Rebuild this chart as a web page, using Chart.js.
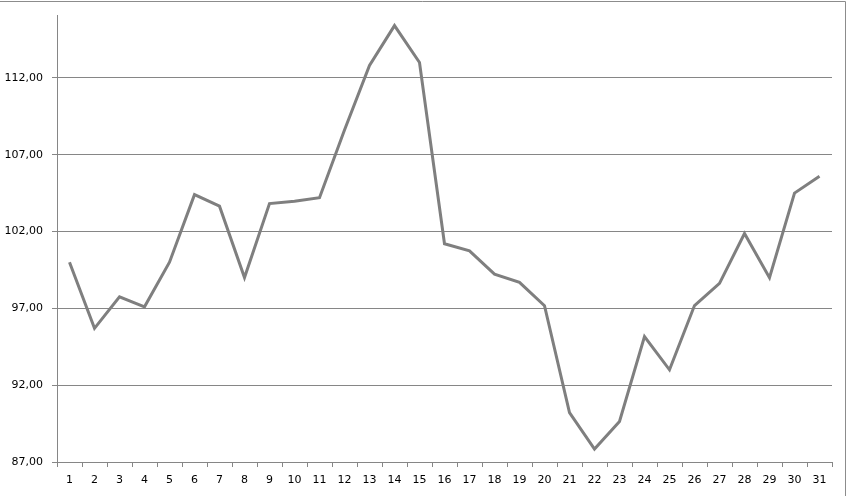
<!DOCTYPE html>
<html>
<head>
<meta charset="utf-8">
<script src="https://cdn.jsdelivr.net/npm/chart.js@4"></script>
<style>
html,body{margin:0;padding:0;background:#fff;}
#wrap{width:847px;height:496px;position:relative;}
</style>
</head>
<body>
<div id="wrap"><canvas id="c" width="847" height="496"></canvas></div>
<script>
const categories = ["1","2","3","4","5","6","7","8","9","10","11","12","13","14","15","16","17","18","19","20","21","22","23","24","25","26","27","28","29","30","31"];
const values = [100.0, 95.7, 97.75, 97.1, 100.0, 104.4, 103.65, 99.0, 103.82, 103.97, 104.2, 108.6, 112.8, 115.4, 113.0, 101.2, 100.74, 99.23, 98.69, 97.17, 90.22, 87.84, 89.64, 95.16, 93.0, 97.18, 98.62, 101.87, 98.99, 104.5, 105.59];
const yTicks = [87, 92, 97, 102, 107, 112];
const yMin = 87;
const yMax = 116.05;

const frame = {
  id: 'frame',
  afterDraw(chart) {
    const ctx = chart.ctx;
    ctx.save();
    ctx.strokeStyle = '#8c8c8c';
    ctx.lineWidth = 1;
    ctx.beginPath();
    ctx.moveTo(0, 1.5);
    ctx.lineTo(845.5, 1.5);
    ctx.lineTo(845.5, 496);
    ctx.stroke();
    ctx.restore();
  }
};

new Chart(document.getElementById('c'), {
  type: 'line',
  data: {
    labels: categories,
    datasets: [{
      data: values,
      borderColor: '#7f7f7f',
      borderWidth: 3,
      pointRadius: 0,
      tension: 0,
      fill: false
    }]
  },
  options: {
    responsive: false,
    animation: false,
    devicePixelRatio: 1,
    layout: { padding: { left: 0, right: 15, top: 15, bottom: 0 } },
    plugins: { legend: { display: false }, tooltip: { enabled: false } },
    scales: {
      x: {
        type: 'category',
        offset: true,
        grid: { offset: true, drawOnChartArea: false, tickLength: 5, color: '#868686', lineWidth: 1 },
        border: { color: '#868686', width: 1 },
        ticks: { color: '#000', font: { family: 'DejaVu Sans', size: 11 }, padding: 7, maxRotation: 0, autoSkip: false },
        afterFit(s) { s.height = 34; }
      },
      y: {
        min: yMin,
        max: yMax,
        grid: { color: '#868686', lineWidth: 1, tickLength: 5 },
        border: { color: '#868686', width: 1 },
        afterBuildTicks(s) { s.ticks = yTicks.map(v => ({ value: v })); },
        ticks: {
          color: '#000',
          font: { family: 'DejaVu Sans', size: 11 },
          padding: 9,
          callback: v => v.toFixed(2).replace('.', ',')
        },
        afterFit(s) { s.width = 57; }
      }
    }
  },
  plugins: [frame]
});
</script>
</body>
</html>
